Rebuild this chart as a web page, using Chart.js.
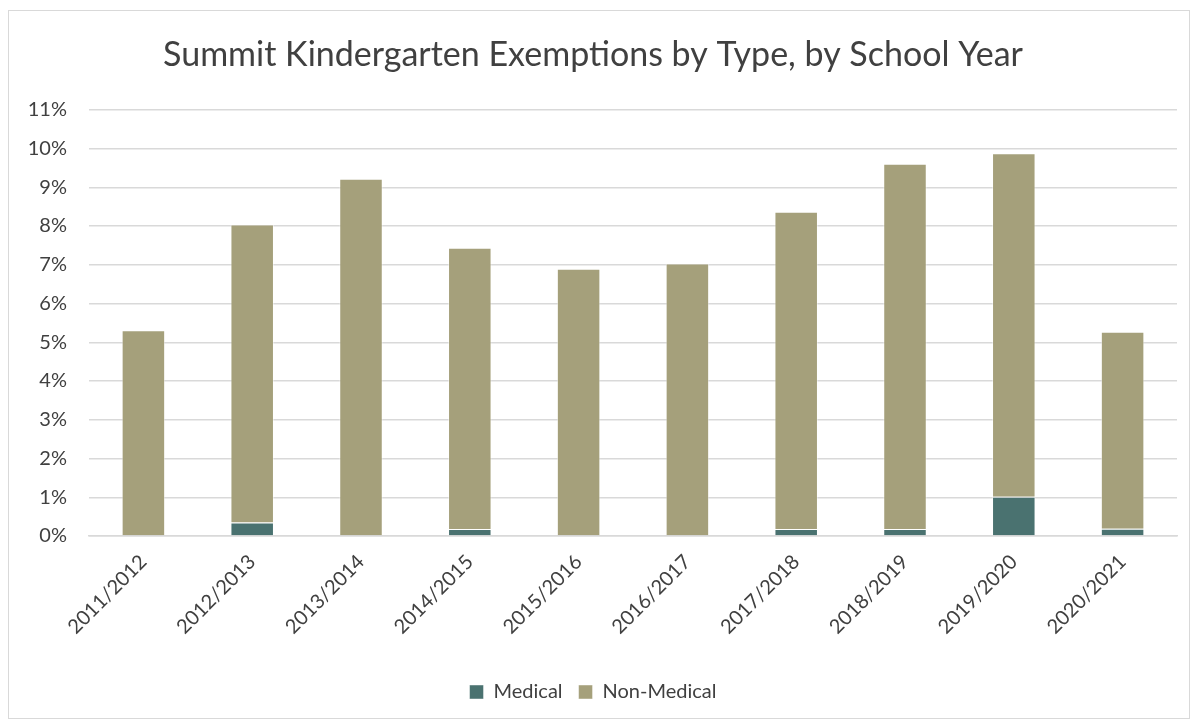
<!DOCTYPE html>
<html>
<head>
<meta charset="utf-8">
<script src="https://cdn.jsdelivr.net/npm/chart.js@4/dist/chart.umd.min.js"></script>
<style>
    html, body { margin: 0; padding: 0; background: #fff; }
    #frame {
        position: absolute;
        left: 8px; top: 10px;
        width: 1182px; height: 709px;
        border: 1px solid #d9d9d9;
        box-sizing: border-box;
    }
    #wrap { position: absolute; left: 0; top: 0; width: 1180px; height: 707px; }
</style>
</head>
<body>
<div id="frame"><div id="wrap"><canvas id="chart"></canvas></div></div>
<script>
// school years on the x axis
const years = ['2011/2012', '2012/2013', '2013/2014', '2014/2015', '2015/2016',
    '2016/2017', '2017/2018', '2018/2019', '2019/2020', '2020/2021'];

// percent of kindergarteners
const medical = [0, 0.35, 0, 0.18, 0, 0, 0.18, 0.18, 1.01, 0.19];
const nonMedical = [5.31, 7.69, 9.22, 7.26, 6.90, 7.03, 8.19, 9.43, 8.87, 5.08];

const yTicks = [0, 1, 2, 3, 4, 5, 6, 7, 8, 9, 10, 11];

const FONT = 'Lato, "Open Sans", sans-serif';

const ctx = document.getElementById('chart').getContext('2d');
const chart = new Chart(ctx, {
    type: 'bar',
    data: {
        labels: years,
        datasets: [
            {
                label: 'Medical',
                data: medical,
                backgroundColor: '#4a7270',
                borderColor: 'rgba(255, 255, 255, 0.45)',
                borderWidth: 1,
                categoryPercentage: 1,
                barPercentage: 0.4,
            },
            {
                label: 'Non-Medical',
                data: nonMedical,
                backgroundColor: '#a5a07b',
                borderColor: 'rgba(255, 255, 255, 0.45)',
                borderWidth: 1,
                categoryPercentage: 1,
                barPercentage: 0.4,
            },
        ],
    },
    options: {
        responsive: true,
        maintainAspectRatio: false,
        animation: false,
        layout: { padding: { left: 0, right: 12, top: 0, bottom: 6 } },
        plugins: {
            title: {
                display: true,
                text: 'Summit Kindergarten Exemptions by Type, by School Year',
                color: '#404040',
                font: { family: FONT, size: 34, weight: 'normal' },
                padding: { top: 24, bottom: 34 },
            },
            legend: {
                position: 'bottom',
                labels: {
                    color: '#404040',
                    font: { family: FONT, size: 20 },
                    boxWidth: 14,
                    boxHeight: 14,
                    padding: 16,
                },
            },
            tooltip: { enabled: false },
        },
        scales: {
            x: {
                stacked: true,
                grid: { display: false },
                border: { color: '#d9d9d9', width: 1.5 },
                ticks: {
                    color: '#404040',
                    font: { family: FONT, size: 20 },
                    minRotation: 45,
                    maxRotation: 45,
                    padding: 6,
                },
                afterFit: (scale) => { scale.height = 130; },
            },
            y: {
                stacked: true,
                min: 0,
                max: 11,
                afterBuildTicks: (scale) => {
                    scale.ticks = yTicks.map((v) => ({ value: v }));
                },
                grid: { color: '#d9d9d9', lineWidth: 1.5, drawTicks: false },
                border: { display: false },
                ticks: {
                    color: '#404040',
                    font: { family: FONT, size: 20 },
                    padding: 22,
                    callback: (v) => v + '%',
                },
                afterFit: (scale) => { scale.width = 80; },
            },
        },
    },
});
</script>
</body>
</html>
